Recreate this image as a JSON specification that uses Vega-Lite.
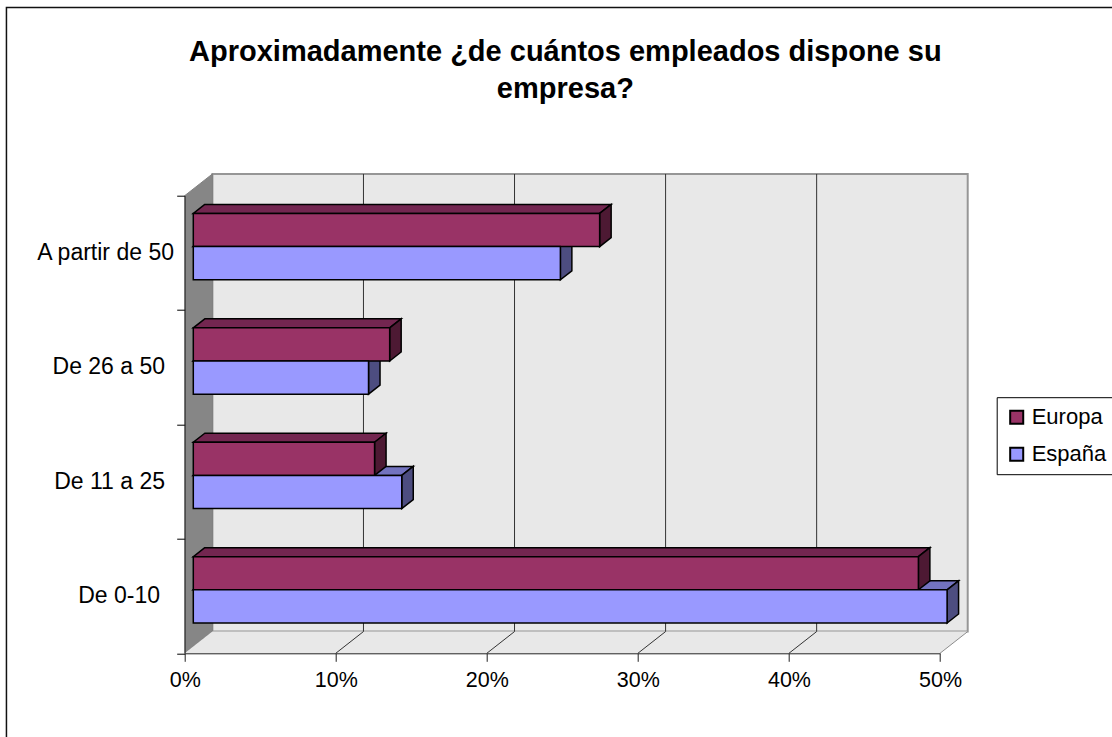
{
"$schema":"https://vega.github.io/schema/vega-lite/v6.json",
"width":755.3,"height":457.6,
"autosize":{"type":"none"},
"padding":{"left":184.7,"top":195.7,"right":172,"bottom":83.7},
"background":"white",
"title":{"text":["Aproximadamente ¿de cuántos empleados dispone su","empresa?"],"anchor":"middle","frame":"group","font":"Liberation Sans","fontSize":29,"fontWeight":"bold","color":"#000","lineHeight":37,"offset":-97,"dx":3,"zindex":1},
"config":{"view":{"stroke":null},"font":"Liberation Sans","legend":{"symbolType":"square"}},
"data":{"values":[
{"categoria":"De 0-10","serie":"Europa","valor":48},
{"categoria":"De 0-10","serie":"España","valor":49.9},
{"categoria":"De 11 a 25","serie":"Europa","valor":12},
{"categoria":"De 11 a 25","serie":"España","valor":13.8},
{"categoria":"De 26 a 50","serie":"Europa","valor":13},
{"categoria":"De 26 a 50","serie":"España","valor":11.6},
{"categoria":"A partir de 50","serie":"Europa","valor":26.9},
{"categoria":"A partir de 50","serie":"España","valor":24.3}
]},
"transform":[
{"calculate":"indexof(['De 0-10','De 11 a 25','De 26 a 50','A partir de 50'],datum.categoria)","as":"slot"},
{"calculate":"datum.valor+0.569","as":"xFin"},
{"calculate":"0.569","as":"xIni"},
{"calculate":"datum.slot+0.555+(datum.serie=='Europa'?0.29:0)","as":"yAlto"},
{"calculate":"datum.yAlto-0.29","as":"yBajo"}
],
"layer":[
{"data":{"values":[{"marco":1}]},
 "transform":[{"calculate":"-11.8","as":"a"},{"calculate":"62","as":"b"},{"calculate":"-0.8","as":"c"},{"calculate":"5.645","as":"d"}],
 "mark":{"type":"rect","fill":"transparent","stroke":"#111","strokeWidth":1.5,"clip":false},
 "encoding":{
  "x":{"field":"a","type":"quantitative","scale":{"domain":[0,50],"nice":false,"zero":false},"axis":{"title":null,"values":[0,10,20,30,40,50],"labelExpr":"datum.value+'%'","labelFont":"Liberation Sans","labelFontSize":21.5,"labelColor":"#000","labelPadding":8,"tickColor":"#222","tickSize":8,"domainColor":"#222","grid":false,"zindex":1,"labelFlush":false,"labelOverlap":false}},
  "x2":{"field":"b"},
  "y":{"field":"c","type":"quantitative","scale":{"domain":[0,4],"nice":false,"zero":false},"axis":{"title":null,"values":[0,1,2,3,4],"labels":false,"tickColor":"#000","tickSize":8,"domainColor":"#333","grid":false,"zindex":1}},
  "y2":{"field":"d"}
 }},
{"data":{"values":[{"pared":"fondo"}]},
 "transform":[{"calculate":"1.834","as":"a"},{"calculate":"51.834","as":"b"},{"calculate":"0.19","as":"c"},{"calculate":"4.19","as":"d"}],
 "mark":{"type":"rect","fill":"#E8E8E8","stroke":"#969696","strokeWidth":2},
 "encoding":{"x":{"field":"a","type":"quantitative"},"x2":{"field":"b"},"y":{"field":"c","type":"quantitative"},"y2":{"field":"d"}}},
{"data":{"values":[{"t":0},{"t":1}]},
 "transform":[{"calculate":"datum.t*1.834","as":"px"},{"calculate":"datum.t*0.19","as":"py"},{"calculate":"4+datum.t*0.19","as":"py2"}],
 "mark":{"type":"area","orient":"vertical","fill":"#868686","stroke":"#808080","strokeWidth":1,"opacity":1},
 "encoding":{"x":{"field":"px","type":"quantitative"},"y":{"field":"py","type":"quantitative","stack":null},"y2":{"field":"py2"}}},
{"data":{"values":[{"t":0},{"t":1}]},
 "transform":[{"calculate":"datum.t*1.834","as":"px"},{"calculate":"50+datum.t*1.834","as":"px2"},{"calculate":"datum.t*0.19","as":"py"}],
 "mark":{"type":"area","orient":"horizontal","fill":"#E8E8E8","opacity":1},
 "encoding":{"x":{"field":"px","type":"quantitative","stack":null},"x2":{"field":"px2"},"y":{"field":"py","type":"quantitative"}}},
{"data":{"values":[{"pct":10},{"pct":20},{"pct":30},{"pct":40}]},
 "transform":[{"calculate":"datum.pct+1.834","as":"px"},{"calculate":"0.19","as":"c"},{"calculate":"4.19","as":"d"}],
 "mark":{"type":"rule","color":"#333","strokeWidth":1},
 "encoding":{"x":{"field":"px","type":"quantitative"},"y":{"field":"c","type":"quantitative"},"y2":{"field":"d"}}},
{"data":{"values":[{"pct":10},{"pct":20},{"pct":30},{"pct":40},{"pct":50}]},
 "transform":[{"calculate":"datum.pct+1.834","as":"px"},{"calculate":"0","as":"c"},{"calculate":"0.19","as":"d"}],
 "mark":{"type":"rule","strokeWidth":1},
 "encoding":{"x":{"field":"pct","type":"quantitative"},"x2":{"field":"px"},"y":{"field":"c","type":"quantitative"},"y2":{"field":"d"},"color":{"condition":{"test":"datum.pct==50","value":"#8c8c8c"},"value":"#333"}}},
{"transform":[{"filter":"datum.serie=='España'"},{"calculate":"[0,1]","as":"t"},{"flatten":["t"]},{"calculate":"0.569+datum.t*0.761","as":"px"},{"calculate":"datum.xFin+datum.t*0.761","as":"px2"},{"calculate":"datum.yAlto+datum.t*0.0787","as":"py"}],
 "mark":{"type":"area","orient":"horizontal","fill":"#7373BF","stroke":"#000","strokeWidth":1.5,"opacity":1},
 "encoding":{"x":{"field":"px","type":"quantitative","stack":null},"x2":{"field":"px2"},"y":{"field":"py","type":"quantitative"},"detail":{"field":"categoria"}}},
{"transform":[{"filter":"datum.serie=='España'"},{"calculate":"[0,1]","as":"t"},{"flatten":["t"]},{"calculate":"datum.xFin+datum.t*0.761","as":"px"},{"calculate":"datum.yAlto+datum.t*0.0787","as":"py"},{"calculate":"datum.yBajo+datum.t*0.0787","as":"py2"}],
 "mark":{"type":"area","orient":"vertical","fill":"#4D4D80","stroke":"#000","strokeWidth":1.5,"opacity":1},
 "encoding":{"x":{"field":"px","type":"quantitative"},"y":{"field":"py","type":"quantitative","stack":null},"y2":{"field":"py2"},"detail":{"field":"categoria"}}},
{"transform":[{"filter":"datum.serie=='Europa'"},{"calculate":"[0,1]","as":"t"},{"flatten":["t"]},{"calculate":"0.569+datum.t*0.761","as":"px"},{"calculate":"datum.xFin+datum.t*0.761","as":"px2"},{"calculate":"datum.yAlto+datum.t*0.0787","as":"py"}],
 "mark":{"type":"area","orient":"horizontal","fill":"#732650","stroke":"#000","strokeWidth":1.5,"opacity":1},
 "encoding":{"x":{"field":"px","type":"quantitative","stack":null},"x2":{"field":"px2"},"y":{"field":"py","type":"quantitative"},"detail":{"field":"categoria"}}},
{"transform":[{"filter":"datum.serie=='Europa'"},{"calculate":"[0,1]","as":"t"},{"flatten":["t"]},{"calculate":"datum.xFin+datum.t*0.761","as":"px"},{"calculate":"datum.yAlto+datum.t*0.0787","as":"py"},{"calculate":"datum.yBajo+datum.t*0.0787","as":"py2"}],
 "mark":{"type":"area","orient":"vertical","fill":"#4D1933","stroke":"#000","strokeWidth":1.5,"opacity":1},
 "encoding":{"x":{"field":"px","type":"quantitative"},"y":{"field":"py","type":"quantitative","stack":null},"y2":{"field":"py2"},"detail":{"field":"categoria"}}},
{"mark":{"type":"rect","stroke":"#000","strokeWidth":1.5},
 "encoding":{"x":{"field":"xIni","type":"quantitative"},"x2":{"field":"xFin"},"y":{"field":"yAlto","type":"quantitative"},"y2":{"field":"yBajo"},
  "fill":{"field":"serie","type":"nominal","scale":{"domain":["Europa","España"],"range":["#993366","#9999FF"]},
   "legend":{"title":null,"orient":"none","legendX":812,"legendY":201.5,"direction":"vertical","fillColor":"white","strokeColor":"#000","padding":9,"labelFont":"Liberation Sans","labelFontSize":22,"labelColor":"#000","symbolSize":170,"symbolStrokeColor":"#000","symbolStrokeWidth":2,"symbolType":"square","rowPadding":15,"labelOffset":4,"labelLimit":200}}}},
{"transform":[{"filter":"datum.serie=='Europa'"},{"calculate":"[-1.63,-1.3,-1.3,-0.71][datum.slot]","as":"tx"},{"calculate":"datum.slot+0.5","as":"ty"}],
 "mark":{"type":"text","align":"right","baseline":"middle","font":"Liberation Sans","fontSize":23,"color":"#000"},
 "encoding":{"x":{"field":"tx","type":"quantitative"},"y":{"field":"ty","type":"quantitative"},"text":{"field":"categoria"}}}
]
}
